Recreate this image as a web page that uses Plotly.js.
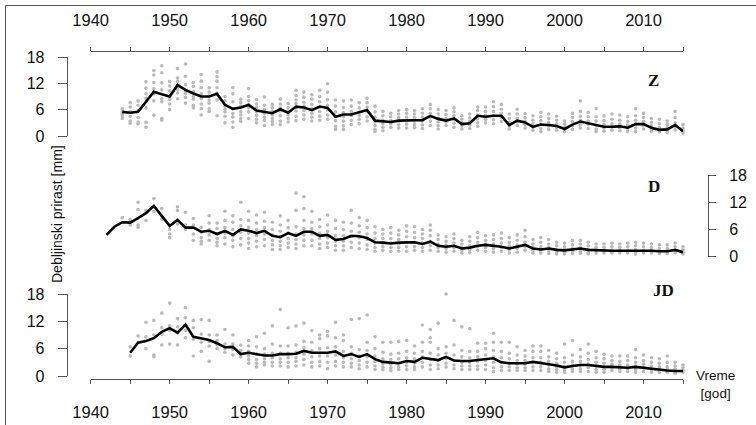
<!DOCTYPE html>
<html><head><meta charset="utf-8">
<script src="https://cdn.plot.ly/plotly-3.0.1.min.js"></script>
<style>html,body{margin:0;padding:0;background:#fff}#chart{width:756px;height:425px}</style>
</head><body><div id="chart"></div>
<script>
// ---- Panel Z ----
const zStart = 1944;
const zMean = [5.5,5.3,5.5,7.8,10.1,9.5,9.0,11.6,10.5,9.7,
  9.0,9.0,9.6,7.1,6.2,6.5,7.1,5.8,5.5,5.2,
  6.1,5.3,6.7,6.5,5.9,6.7,6.4,4.4,4.9,4.9,
  5.4,5.9,3.5,3.3,3.2,3.5,3.6,3.6,3.6,4.6,
  3.9,3.5,4.0,2.7,2.9,4.6,4.4,4.6,4.6,2.5,
  3.5,3.1,2.1,2.6,2.5,2.3,1.6,2.6,3.3,2.9,
  2.5,2.1,2.1,2.2,1.9,2.7,2.7,1.9,1.4,1.5,
  2.5,1.1];
const zDots = [
  [5.5,6.2,4.6,4.0,5.0],[7.6,6.6,4.5,3.4,2.9,5.5],[8.0,7.0,4.2,3.2,2.8,5.8],[12.4,10.9,9.6,8.6,6.4,3.1,2.0],
  [14.9,13.9,12.2,10.8,9.6,8.0,4.7],[16.0,14.4,12.1,10.5,8.5,7.8,4.0,3.6],[12.4,11.4,10.3,9.0,8.3,7.3,6.0],
  [15.4,13.2,12.4,11.3,10.6,9.8,8.5],[16.4,13.6,11.7,10.3,9.7,8.8,7.5],[12.2,11.3,10.1,9.0,8.4,7.0,6.4],
  [14.0,12.5,11.0,9.6,8.5,7.3,6.2,4.8],[11.0,10.0,9.1,8.2,7.5,6.2,5.6],[14.6,13.5,12.5,11.0,9.8,8.2,4.6],
  [9.0,8.0,6.8,6.1,5.5,4.5,3.0],[11.0,9.6,7.8,6.2,5.1,4.3,3.2,2.0],[8.4,7.6,6.8,5.5,4.8,4.0,3.3],
  [10.8,9.0,8.1,7.2,6.5,5.5,4.0],[8.3,7.3,6.5,5.5,4.7,3.8,3.0],[8.9,7.0,6.0,5.2,4.3,3.6,2.4],
  [7.2,6.5,5.7,4.8,4.0,3.3,2.6],[8.4,7.3,6.4,5.7,4.6,3.4,2.6],[7.4,6.4,5.5,4.8,4.0,3.2],
  [10.4,9.2,8.2,7.4,6.5,5.7,4.5,3.5],[10.0,8.8,7.7,6.8,5.8,4.8,3.8],[9.4,8.4,7.2,6.2,5.2,4.3,3.4],
  [10.4,9.0,7.8,6.6,5.6,4.5,3.6],[11.9,10.0,8.3,7.0,5.9,4.8,3.8],[8.2,6.8,5.5,4.5,3.5,2.2,1.5],
  [8.0,6.5,5.3,4.4,3.4,2.3,1.5],[8.2,6.8,5.6,4.6,3.6,2.6],[7.6,6.4,5.4,4.6,3.8,2.8],
  [8.6,7.6,6.6,5.5,4.4,3.4],[6.8,5.5,4.3,3.2,2.4,1.5,1.0],[5.6,4.6,3.6,2.8,2.0,1.2],
  [5.2,4.4,3.5,2.8,2.0],[5.8,5.0,4.2,3.4,2.6,1.8],[6.0,5.2,4.3,3.5,2.7,1.8],
  [5.8,5.0,4.2,3.4,2.6,1.9],[6.2,5.2,4.3,3.4,2.5,1.7],[7.2,6.2,5.2,4.3,3.4,2.4],
  [6.0,5.0,4.0,3.2,2.4,1.6],[5.8,4.9,4.0,3.2,2.4],[6.4,5.5,4.6,3.8,2.9,2.0],
  [4.6,3.8,3.0,2.3,1.6],[5.0,4.1,3.3,2.5,1.7],[6.6,5.8,4.8,3.9,3.0,2.2],
  [6.6,5.6,4.7,3.8,3.0],[7.8,6.7,5.6,4.6,3.7,2.8],[7.2,6.1,5.2,4.2,3.3],
  [5.0,4.0,3.1,2.3,1.6],[6.1,5.0,4.0,3.2,2.4],[5.1,4.2,3.4,2.6,1.8],
  [4.6,3.6,2.8,2.0,1.3],[5.4,4.4,3.5,2.6,1.7,1.0],[5.0,4.0,3.1,2.3,1.5],
  [4.5,3.6,2.8,2.0,1.3],[3.4,2.7,2.0,1.4,1.0],[5.2,4.2,3.3,2.4,1.5],
  [8.0,5.6,4.5,3.6,2.6,1.8],[5.4,4.4,3.4,2.6,1.7],[6.2,4.4,3.4,2.4,1.6,1.0],
  [4.6,3.5,2.6,1.8,1.1],[5.0,3.8,2.8,2.0,1.3],[4.8,3.6,2.7,1.9,1.2],
  [4.4,3.3,2.5,1.7,1.0],[6.2,4.6,3.6,2.7,1.8,1.0],[5.2,4.2,3.3,2.4,1.6],
  [4.0,3.1,2.3,1.6,1.0],[3.8,2.8,2.0,1.4,0.9],[3.4,2.6,1.9,1.3,0.8],
  [5.6,4.2,3.0,2.2,1.4],[2.6,1.8,1.2,0.7]];

// ---- Panel D ----
const dStart = 1942;
const dMean = [4.8,6.6,7.6,7.5,8.5,9.6,11.2,9.0,6.8,8.1,
  6.4,6.4,5.5,5.7,5.0,5.7,4.8,6.0,5.7,5.2,
  5.7,4.6,4.3,5.2,4.6,5.5,5.5,4.6,4.8,3.7,
  3.9,4.6,4.5,4.1,3.2,3.1,2.9,3.1,3.1,3.2,
  2.8,3.3,2.4,2.2,2.4,1.8,2.0,2.4,2.6,2.4,
  2.2,1.8,2.2,2.6,1.8,1.6,1.8,1.5,1.4,1.6,
  1.8,1.5,1.4,1.3,1.3,1.3,1.3,1.4,1.3,1.3,
  1.2,1.2,1.5,1.0];
const dDotStart = 1944;
const dDots = [
  [8.6],[8.2,7.0],[12.0,10.4,7.0,6.5],[10.2,8.0],[12.8,11.0,10.0],[10.6,9.0,8.2],
  [6.0,5.0,4.2],[11.0,10.2,8.0,7.2],[9.8,7.0,6.0],[8.4,7.0,5.0,3.6],[6.5,5.4,4.2,3.4,2.8],
  [9.0,7.4,6.0,4.8,3.6],[7.4,6.2,5.0,4.0,3.2,2.4],[10.0,8.0,6.4,5.2,4.2,2.8],[9.0,7.6,6.0,4.6,3.6,2.2],
  [12.0,8.2,6.8,5.4,4.0,2.6],[10.0,8.0,6.5,5.2,4.0,3.0,1.8],[9.2,7.4,6.0,4.6,3.4,2.2],
  [9.8,7.8,6.4,5.0,3.8,2.4],[7.6,6.0,4.8,3.6,2.6,1.6],[9.0,7.0,5.6,4.4,3.4,2.4,1.6],
  [8.0,6.4,5.2,4.0,3.0,2.0],[14.0,10.2,6.6,5.0,3.8,2.8,1.8],[13.2,10.6,8.0,6.2,4.8,3.6,2.4],
  [10.0,7.6,6.2,5.0,3.6,2.4],[8.2,6.6,5.2,4.0,2.8,1.8],[9.2,7.0,5.6,4.2,3.0,2.0],
  [8.0,6.2,4.6,3.4,2.4,1.4],[7.6,6.0,4.6,3.4,2.4,1.4],[10.2,7.4,5.6,4.4,3.2,2.0],
  [8.6,6.8,5.4,4.2,3.0,1.8],[8.0,6.4,5.0,3.8,2.6,1.6],[6.6,5.2,4.0,3.0,2.0,1.2],
  [6.0,5.0,4.0,3.0,2.2,1.4],[6.4,5.2,4.0,3.0,2.0,1.2],[5.8,4.8,3.8,2.8,2.0,1.2],
  [6.8,5.6,4.4,3.2,2.2,1.2],[6.6,5.4,4.2,3.2,2.2,1.4],[6.0,5.0,4.0,3.0,2.0,1.2],
  [7.0,5.8,4.6,3.4,2.4,1.4],[4.8,3.8,2.8,2.0,1.2],[4.4,3.4,2.6,1.8,1.0],
  [5.0,4.0,3.0,2.0,1.2],[3.6,2.8,2.0,1.4,0.8],[4.4,3.4,2.4,1.6,0.9],
  [5.4,4.2,3.2,2.2,1.4],[4.6,3.6,2.8,2.0,1.2],[4.8,3.8,2.8,1.8,1.0],
  [5.2,4.0,3.0,2.0,1.2],[4.2,3.2,2.4,1.6,0.8],[4.8,3.6,2.6,1.8,1.0],
  [5.8,4.4,3.2,2.2,1.4],[3.8,2.8,2.0,1.4,0.8],[4.2,3.2,2.2,1.4,0.8],
  [3.8,2.8,2.0,1.3,0.7],[3.2,2.4,1.6,1.0,0.6],[3.0,2.2,1.6,1.0,0.6],
  [3.6,2.6,1.8,1.2,0.7],[3.6,2.8,2.0,1.2,0.7],[3.2,2.4,1.6,1.0,0.6],
  [2.8,2.0,1.4,0.8],[2.8,2.0,1.4,0.8],[3.0,2.2,1.4,0.8],
  [2.8,2.0,1.4,0.8],[3.0,2.2,1.4,0.8],[3.2,2.4,1.6,1.0,0.6],
  [3.0,2.2,1.4,0.8],[2.8,2.0,1.4,0.8],[2.6,1.8,1.2,0.7],
  [2.6,1.8,1.2,0.7],[3.0,2.2,1.4,0.8],[2.2,1.6,1.0,0.6]];

// ---- Panel JD ----
const jdStart = 1945;
const jdMean = [5.1,7.3,7.7,8.3,9.7,10.5,9.5,11.3,8.6,8.3,
  7.9,7.2,6.3,6.4,4.8,5.1,4.8,4.5,4.5,4.8,
  4.8,4.9,5.5,5.1,5.1,5.1,5.4,4.4,4.8,4.2,
  4.8,3.7,3.1,2.9,2.8,3.3,3.1,4.0,3.7,3.5,
  4.2,3.4,3.3,3.3,3.5,3.7,3.9,3.0,2.8,2.8,
  2.8,3.1,2.9,2.6,2.3,1.9,2.2,2.4,2.4,2.2,
  2.0,2.0,1.9,1.8,2.0,1.8,1.5,1.3,1.2,1.1,
  1.1];
const jdDots = [
  [6.4,4.4],[8.8,7.4],[11.8,8.6,6.0],[12.2,9.0,4.6,4.2],[13.8,10.6,9.2,6.8],
  [16.0,11.0,10.0,7.0],[12.6,10.8,9.4,6.8],[15.0,12.8,10.0,8.4],[12.2,10.6,8.0,4.4],[12.4,9.2,7.4,5.4],
  [12.2,9.0,7.6,6.6,3.2],[9.0,7.8,6.8,6.0],[10.2,7.0,6.0,5.2],[9.0,7.0,5.8,4.6],[6.8,5.6,4.8,4.2],
  [7.8,6.6,5.4,4.4,3.6,2.8],[8.6,6.4,4.8,3.6,2.8,2.0],[9.4,6.0,4.8,3.8,3.0,2.4],[11.0,7.0,5.0,4.0,3.0,2.2],
  [14.6,6.6,5.0,3.8,3.0,2.2],[10.6,6.6,5.0,4.0,3.0,2.0],[11.0,6.8,5.2,4.0,3.2,2.2],[11.6,7.6,6.2,4.8,3.6,2.4],
  [10.0,7.4,5.6,4.2,3.0,2.0],[9.0,8.2,6.0,4.4,3.2,2.2],[9.8,8.8,6.2,4.4,3.0,1.6],[11.8,8.4,6.4,4.6,3.2,2.2],
  [9.0,7.8,5.4,4.0,3.0,2.0],[12.4,6.4,5.0,3.8,2.8,2.0],[12.6,5.8,4.4,3.4,2.4,1.6],[13.4,7.4,5.6,4.2,3.0,2.0],
  [8.6,6.0,4.4,3.2,2.2,1.4],[7.4,5.2,3.8,2.8,2.0,1.4],[7.4,4.8,3.6,2.6,1.8,1.2],
  [7.6,5.0,3.8,2.8,2.0,1.4],[7.8,5.4,4.0,3.0,2.2,1.4],[6.6,5.0,3.8,2.8,2.0,1.4],
  [11.2,7.4,5.4,4.2,3.0,2.0],[10.2,8.4,7.4,5.0,3.6,2.4,1.4],[11.6,6.0,4.6,3.4,2.4,1.6],
  [18.0,6.4,5.0,3.8,2.8,2.0],[12.2,6.8,4.6,3.4,2.4,1.6],[10.8,5.6,4.2,3.0,2.2,1.4],
  [10.4,5.4,4.0,3.0,2.2,1.4],[7.2,5.4,4.2,3.2,2.2,1.4],[7.2,6.0,4.6,3.4,2.4,1.4],
  [9.4,7.4,5.6,4.2,3.0,1.8,1.0],[7.4,5.4,4.0,3.0,2.0,1.2],[7.4,5.0,3.8,2.8,2.0,1.2],
  [6.4,4.6,3.4,2.6,1.8,1.2],[5.6,4.4,3.4,2.6,1.8,1.2],[6.6,5.4,4.0,3.0,2.0,1.2],
  [6.6,5.4,4.0,3.0,2.0,1.2],[5.6,4.2,3.2,2.4,1.6,1.0],[5.0,3.8,2.8,2.0,1.4,0.8],
  [7.0,4.0,3.0,2.0,1.4,0.8],[7.8,4.6,3.2,2.4,1.6,1.0],[5.8,4.2,3.2,2.4,1.6,1.0],
  [7.0,5.0,3.6,2.6,1.8,1.0],[5.4,4.0,3.0,2.2,1.4,0.8],[4.8,3.8,2.8,2.0,1.4,0.8],
  [4.4,3.4,2.6,1.8,1.2],[4.4,3.2,2.4,1.6,1.0],[4.4,3.4,2.4,1.6,1.0],
  [5.8,4.0,3.0,2.2,1.4,0.8],[4.6,3.4,2.6,1.8,1.0],[4.0,3.0,2.2,1.4,0.8],
  [3.8,2.8,2.0,1.4,0.8],[4.4,3.0,2.0,1.4,0.8],[3.0,2.2,1.6,1.0,0.6],
  [2.4,1.8,1.2,0.8]];

const xTickVals = [1940,1945,1950,1955,1960,1965,1970,1975,1980,1985,1990,1995,2000,2005,2010,2015];
const xTickText = ['1940','','1950','','1960','','1970','','1980','','1990','','2000','','2010',''];
const yTickVals = [0,6,12,18];
const yTickText = ['0','6','12','18'];
const panelLabels = ['Z','D','JD'];

function years(start, n){ const a=[]; for(let i=0;i<n;i++) a.push(start+i); return a; }
function expand(start, dots){ const x=[],y=[]; dots.forEach((arr,i)=>arr.forEach(v=>{x.push(start+i); y.push(v);})); return {x,y}; }

const W=756, H=425;
const px = v => v/W, py = v => 1 - v/H;
const dotStyle = {color:'#b9b9b9', size:3.6, symbol:'circle'};
const lineStyle = {color:'#000', width:2.6};

const zd = expand(zStart, zDots), dd = expand(dDotStart, dDots), jd = expand(jdStart, jdDots);
const traces = [
  {x:zd.x, y:zd.y, mode:'markers', marker:dotStyle, xaxis:'x', yaxis:'y', cliponaxis:false},
  {x:years(zStart,zMean.length), y:zMean, mode:'lines', line:lineStyle, xaxis:'x', yaxis:'y', cliponaxis:false},
  {x:dd.x, y:dd.y, mode:'markers', marker:dotStyle, xaxis:'x', yaxis:'y2', cliponaxis:false},
  {x:years(dStart,dMean.length), y:dMean, mode:'lines', line:lineStyle, xaxis:'x', yaxis:'y2', cliponaxis:false},
  {x:jd.x, y:jd.y, mode:'markers', marker:dotStyle, xaxis:'x', yaxis:'y3', cliponaxis:false},
  {x:years(jdStart,jdMean.length), y:jdMean, mode:'lines', line:lineStyle, xaxis:'x', yaxis:'y3', cliponaxis:false},
  {x:[1940], y:[null], mode:'markers', xaxis:'x2', yaxis:'y', showlegend:false}
];

const font = {family:'Liberation Sans, Arial, sans-serif', size:16, color:'#111'};
const axisCommon = {showgrid:false, zeroline:false, showline:true, linecolor:'#555', linewidth:1,
  ticks:'outside', tickcolor:'#555', tickwidth:1, automargin:false, fixedrange:true};
const xCommon = Object.assign({}, axisCommon, {range:[1940,2015], domain:[px(90.7), px(683)],
  tickmode:'array', tickvals:xTickVals, ticktext:xTickText, ticklen:4, ticklabelstandoff:14,
  tickfont:{family:font.family, size:16.5, color:'#111'}});
const yCommon = Object.assign({}, axisCommon, {range:[0,18], tickmode:'array', tickvals:yTickVals,
  ticktext:yTickText, ticklen:9, ticklabelstandoff:10, tickfont:{family:font.family, size:16, color:'#111'}});

const layout = {
  width:W, height:H, margin:{l:0,r:0,t:0,b:0}, paper_bgcolor:'#fff', plot_bgcolor:'rgba(0,0,0,0)',
  showlegend:false, hovermode:false, font:font,
  xaxis: Object.assign({}, xCommon, {anchor:'free', position:(H-379)/H, side:'bottom'}),
  xaxis2: Object.assign({}, xCommon, {overlaying:'x', anchor:'free', position:(H-50.7)/H, side:'top', matches:undefined}),
  yaxis: Object.assign({}, yCommon, {domain:[(H-136)/H,(H-57)/H], anchor:'free', position:px(66.7), side:'left'}),
  yaxis2: Object.assign({}, yCommon, {domain:[(H-256.7)/H,(H-175)/H], anchor:'free', position:px(708), side:'right', ticklen:7}),
  yaxis3: Object.assign({}, yCommon, {domain:[(H-376)/H,(H-294)/H], anchor:'free', position:px(66.7), side:'left'}),
  shapes:[
    {type:'line', xref:'paper', yref:'paper', x0:px(5.5), x1:1, y0:py(5.5), y1:py(5.5), line:{color:'#555', width:1}},
    {type:'line', xref:'paper', yref:'paper', x0:px(5.5), x1:px(5.5), y0:py(5.5), y1:0, line:{color:'#555', width:1}}
  ],
  annotations:[
    {text:'<b>'+panelLabels[0]+'</b>', xref:'paper', yref:'paper', x:px(653), y:py(81), showarrow:false, xanchor:'center', yanchor:'middle',
      font:{family:'Liberation Serif, Times New Roman, serif', size:17, color:'#111'}},
    {text:'<b>'+panelLabels[1]+'</b>', xref:'paper', yref:'paper', x:px(654), y:py(186), showarrow:false, xanchor:'center', yanchor:'middle',
      font:{family:'Liberation Serif, Times New Roman, serif', size:17, color:'#111'}},
    {text:'<b>'+panelLabels[2]+'</b>', xref:'paper', yref:'paper', x:px(663), y:py(290), showarrow:false, xanchor:'center', yanchor:'middle',
      font:{family:'Liberation Serif, Times New Roman, serif', size:17, color:'#111'}},
    {text:'Debljinski prirast [mm]', xref:'paper', yref:'paper', x:px(57), y:py(214), showarrow:false, textangle:-90,
      xanchor:'center', yanchor:'middle', font:{family:font.family, size:14, color:'#111'}},
    {text:'Vreme<br>[god]', xref:'paper', yref:'paper', x:px(715), y:py(384), showarrow:false, xanchor:'center', yanchor:'middle',
      align:'center', font:{family:font.family, size:13.5, color:'#111'}}
  ]
};
Plotly.newPlot('chart', traces, layout, {displayModeBar:false, staticPlot:true});
</script></body></html>
